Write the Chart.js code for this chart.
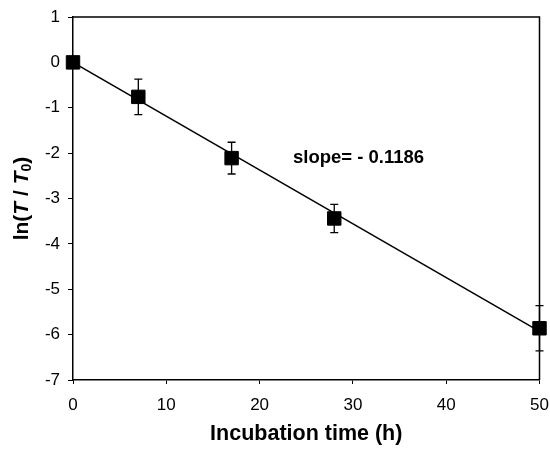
<!DOCTYPE html>
<html>
<head>
<meta charset="utf-8">
<script src="https://cdn.jsdelivr.net/npm/chart.js@4/dist/chart.umd.min.js"></script>
<style>
  html, body { margin: 0; padding: 0; background: #fff; }
  #wrap { width: 550px; height: 451px; }
</style>
</head>
<body>
<div id="wrap"><canvas id="decayChart"></canvas></div>
<script>
// data
var times = [0, 7, 17, 28, 50];
var lnRatio = [0, -0.76, -2.11, -3.44, -5.86];
var errors = [0.05, 0.39, 0.35, 0.31, 0.5];
var fitX = [0, 50];
var fitY = [0, -5.93];
var yTicks = [1, 0, -1, -2, -3, -4, -5, -6, -7];
var xTicks = [0, 10, 20, 30, 40, 50];

Chart.defaults.font.family = "'Liberation Sans', Arial, sans-serif";
Chart.defaults.color = '#000';

var points = times.map(function (t, i) { return { x: t, y: lnRatio[i] }; });
var fitLine = fitX.map(function (t, i) { return { x: t, y: fitY[i] }; });

// error bars, box frame, slope label and y title
var extras = {
    id: 'extras',
    afterDatasetsDraw: function (chart) {
        var ctx = chart.ctx;
        var xs = chart.scales.x, ys = chart.scales.y;
        var area = chart.chartArea;
        ctx.save();
        ctx.strokeStyle = '#000';
        ctx.lineWidth = 1.5;
        ctx.beginPath();
        ctx.moveTo(area.left, area.top); ctx.lineTo(area.right, area.top);
        ctx.lineTo(area.right, area.bottom);
        ctx.stroke();

        ctx.lineWidth = 1.3;
        for (var i = 0; i < times.length; i++) {
            var px = xs.getPixelForValue(times[i]);
            var top = ys.getPixelForValue(lnRatio[i] + errors[i]);
            var bot = ys.getPixelForValue(lnRatio[i] - errors[i]);
            ctx.beginPath();
            ctx.moveTo(px, top); ctx.lineTo(px, bot);
            ctx.moveTo(px - 4, top); ctx.lineTo(px + 4, top);
            ctx.moveTo(px - 4, bot); ctx.lineTo(px + 4, bot);
            ctx.stroke();
        }

        ctx.fillStyle = '#000';
        ctx.font = "bold 18.5px 'Liberation Sans', Arial, sans-serif";
        ctx.textAlign = 'left';
        ctx.textBaseline = 'middle';
        ctx.fillText('slope= - 0.1186', 293, 158);

        // y axis title ln(T/T0) with italic T and subscript 0
        var parts = [
            { t: 'ln(', f: "bold 21px 'Liberation Sans', Arial, sans-serif", dy: 0 },
            { t: 'T', f: "italic bold 21px 'Liberation Sans', Arial, sans-serif", dy: 0 },
            { t: ' / ', f: "bold 21px 'Liberation Sans', Arial, sans-serif", dy: 0 },
            { t: 'T', f: "italic bold 21px 'Liberation Sans', Arial, sans-serif", dy: 0 },
            { t: '0', f: "bold 14px 'Liberation Sans', Arial, sans-serif", dy: 5 },
            { t: ')', f: "bold 21px 'Liberation Sans', Arial, sans-serif", dy: 0 }
        ];
        var total = 0;
        parts.forEach(function (p) { ctx.font = p.f; p.w = ctx.measureText(p.t).width; total += p.w; });
        ctx.translate(22, (area.top + area.bottom) / 2);
        ctx.rotate(-Math.PI / 2);
        var cx = -total / 2;
        parts.forEach(function (p) {
            ctx.font = p.f;
            ctx.fillText(p.t, cx, p.dy);
            cx += p.w;
        });
        ctx.restore();
    }
};

var ctx = document.getElementById('decayChart');
var myChart = new Chart(ctx, {
    plugins: [extras],
    data: {
        datasets: [
            {
                type: 'scatter',
                label: 'ln(T/T0)',
                data: points,
                backgroundColor: '#000',
                borderColor: '#000',
                pointStyle: 'rect',
                pointRadius: 9.5,
                clip: false,
                order: 0
            },
            {
                type: 'line',
                label: 'fit',
                data: fitLine,
                borderColor: '#000',
                borderWidth: 1.5,
                pointRadius: 0,
                fill: false,
                order: 1
            }
        ]
    },
    options: {
        responsive: true,
        maintainAspectRatio: false,
        animation: false,
        layout: {
            padding: { top: 17, right: 10, left: 0, bottom: 0 }
        },
        plugins: {
            legend: { display: false },
            tooltip: { enabled: false }
        },
        scales: {
            x: {
                type: 'linear',
                min: 0,
                max: 50,
                afterBuildTicks: function (scale) {
                    scale.ticks = xTicks.map(function (v) { return { value: v }; });
                },
                afterFit: function (scale) {
                    scale.height = 71;
                    scale.paddingLeft = 0;
                    scale.paddingRight = 0;
                },
                ticks: {
                    font: { size: 17 },
                    padding: 11
                },
                grid: {
                    drawOnChartArea: false,
                    color: '#000',
                    tickLength: 4
                },
                border: { color: '#000', width: 1.5 },
                title: {
                    display: true,
                    text: 'Incubation time (h)',
                    font: { size: 21.5, weight: 'bold' },
                    padding: { top: 11 }
                }
            },
            y: {
                type: 'linear',
                min: -7,
                max: 1,
                afterBuildTicks: function (scale) {
                    scale.ticks = yTicks.map(function (v) { return { value: v }; });
                },
                afterFit: function (scale) {
                    scale.width = 73;
                    scale.paddingTop = 0;
                    scale.paddingBottom = 0;
                },
                ticks: {
                    font: { size: 17 },
                    padding: 8
                },
                grid: {
                    drawOnChartArea: false,
                    color: '#000',
                    tickLength: 5
                },
                border: { color: '#000', width: 1.5 }
            }
        }
    }
});
</script>
</body>
</html>
